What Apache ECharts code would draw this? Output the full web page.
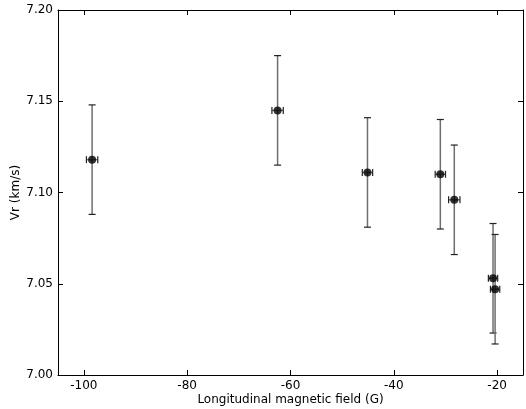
<!DOCTYPE html>
<html>
<head>
<meta charset="utf-8">
<script src="https://cdn.jsdelivr.net/npm/echarts@6/dist/echarts.min.js"></script>
<style>
html,body{margin:0;padding:0;background:#fff;}
#c{width:526px;height:409px;}
</style>
</head>
<body>
<div id="c"></div>
<script>
// Data
var fieldG   = [-98.4, -62.5, -45.1, -31.0, -28.3, -20.8, -20.4];
var fieldErr = [1.1, 1.1, 1.0, 1.0, 1.1, 0.9, 0.9];
var vr       = [7.118, 7.145, 7.111, 7.110, 7.096, 7.053, 7.047];
var vrErr    = [0.030, 0.030, 0.030, 0.030, 0.030, 0.030, 0.030];
var xTicks   = [-100, -80, -60, -40, -20];
var yTicks   = [7.00, 7.05, 7.10, 7.15, 7.20];

var pts = fieldG.map(function(x,i){ return [x, vr[i], fieldErr[i], vrErr[i]]; });
var font = 'DejaVu Sans';

var chart = echarts.init(document.getElementById('c'), null, {renderer:'canvas'});
var axisLine = {show:true, lineStyle:{color:'#000', width:1}};
var tickIn = {show:true, inside:true, length:5, lineStyle:{color:'#000', width:1}};

chart.setOption({
  animation:false,
  backgroundColor:'#fff',
  grid:{left:58, right:3, top:10, bottom:34, containLabel:false, outerBoundsMode:'none'},
  xAxis:[{
    type:'value', min:-105, max:-15, position:'bottom',
    axisLine:axisLine,
    axisTick:Object.assign({customValues:xTicks}, tickIn),
    axisLabel:{customValues:xTicks, color:'#000', fontFamily:font, fontSize:12, margin:5,
      formatter:function(v){ return String(v); }},
    splitLine:{show:false},
    name:'Longitudinal magnetic field (G)', nameLocation:'middle', nameGap:19, nameMoveOverlap:false,
    nameTextStyle:{color:'#000', fontFamily:font, fontSize:12}
  },{
    type:'value', min:-105, max:-15, position:'top',
    axisLine:axisLine,
    axisTick:Object.assign({customValues:xTicks}, tickIn),
    axisLabel:{show:false}, splitLine:{show:false}
  }],
  yAxis:[{
    type:'value', min:7.0, max:7.2, interval:0.05, position:'left',
    axisLine:axisLine, axisTick:tickIn,
    axisLabel:{color:'#000', fontFamily:font, fontSize:12, margin:5,
      formatter:function(v){ return v.toFixed(2); }},
    splitLine:{show:false},
    name:'Vr (km/s)', nameLocation:'middle', nameGap:36, nameRotate:90, nameMoveOverlap:false,
    nameTextStyle:{color:'#000', fontFamily:font, fontSize:12}
  },{
    type:'value', min:7.0, max:7.2, interval:0.05, position:'right',
    axisLine:axisLine, axisTick:tickIn,
    axisLabel:{show:false}, splitLine:{show:false}
  }],
  series:[{
    type:'custom', xAxisIndex:0, yAxisIndex:0,
    data:pts,
    renderItem:function(params, api){
      var x = api.value(0), y = api.value(1), ex = api.value(2), ey = api.value(3);
      var t = api.coord([x, y+ey]), b = api.coord([x, y-ey]);
      var l = api.coord([x-ex, y]), r = api.coord([x+ex, y]);
      var cap = 3.5;
      var bar = {stroke:'#6e6e6e', lineWidth:1.5};
      var cs = {stroke:'#222', lineWidth:1.2};
      return {type:'group', children:[
        {type:'line', shape:{x1:t[0],y1:t[1],x2:b[0],y2:b[1]}, style:bar},
        {type:'line', shape:{x1:t[0]-cap,y1:t[1],x2:t[0]+cap,y2:t[1]}, style:cs},
        {type:'line', shape:{x1:b[0]-cap,y1:b[1],x2:b[0]+cap,y2:b[1]}, style:cs},
        {type:'line', shape:{x1:l[0],y1:l[1],x2:r[0],y2:r[1]}, style:bar},
        {type:'line', shape:{x1:l[0],y1:l[1]-cap,x2:l[0],y2:l[1]+cap}, style:cs},
        {type:'line', shape:{x1:r[0],y1:r[1]-cap,x2:r[0],y2:r[1]+cap}, style:cs}
      ]};
    },
    z:2
  },{
    type:'scatter', xAxisIndex:0, yAxisIndex:0,
    data:pts.map(function(p){ return [p[0], p[1]]; }),
    symbol:'circle', symbolSize:8,
    itemStyle:{color:'#000'},
    z:3
  }]
});
</script>
</body>
</html>
